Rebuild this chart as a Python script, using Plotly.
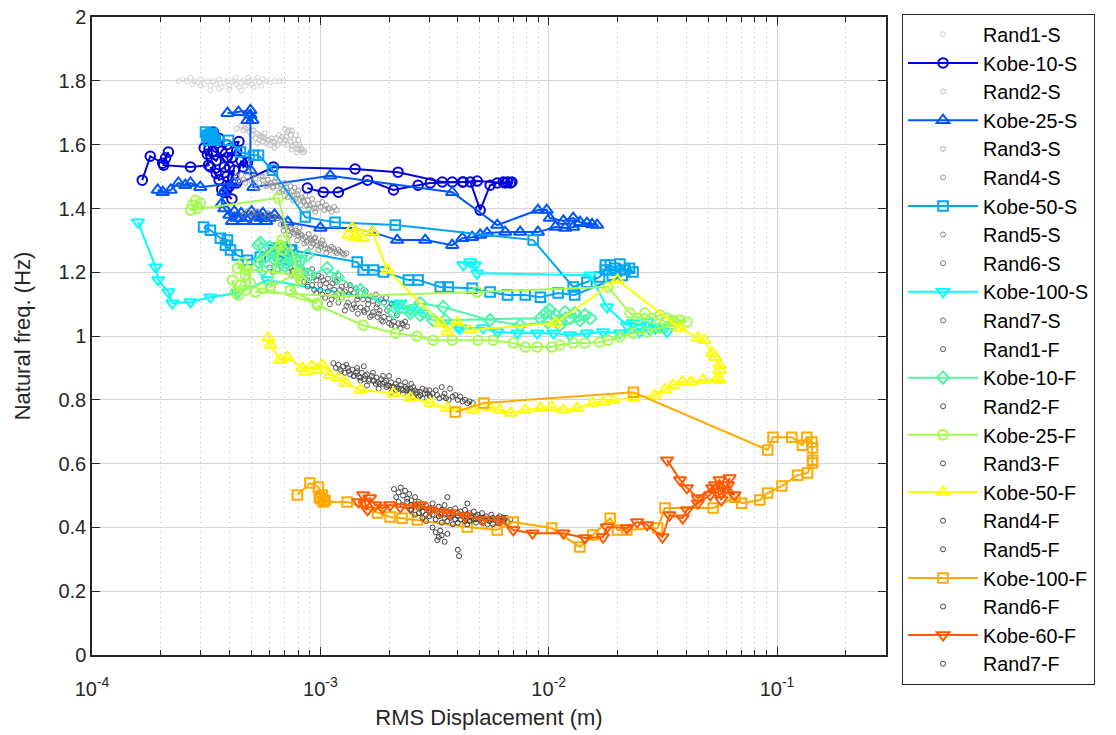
import math
import plotly.graph_objects as go

# ---------------- data (x = RMS displacement [m], y = natural freq [Hz]) ----------------
RAND1_S = [(2.4e-4,1.80),(2.5e-4,1.805),(2.6e-4,1.80),(2.7e-4,1.81),(2.8e-4,1.80),(2.9e-4,1.795),(3.0e-4,1.805),
           (3.1e-4,1.79),(3.2e-4,1.80),(3.3e-4,1.785),(3.4e-4,1.80),(3.5e-4,1.79),(3.6e-4,1.805),(3.7e-4,1.78),
           (3.8e-4,1.795),(3.9e-4,1.80),(4.0e-4,1.785),(4.1e-4,1.795),(4.2e-4,1.80),(4.3e-4,1.79),(4.4e-4,1.78),
           (4.5e-4,1.795),(4.6e-4,1.80),(4.7e-4,1.785),(4.8e-4,1.795),(4.9e-4,1.80),(5.0e-4,1.79),(5.2e-4,1.80),
           (5.4e-4,1.795),(5.6e-4,1.805),(5.8e-4,1.80),(6.0e-4,1.795),(6.3e-4,1.80),(6.6e-4,1.80),(6.9e-4,1.80),
           (3.3e-4,1.77),(3.6e-4,1.775),(4.0e-4,1.775),(4.5e-4,1.77),(5.1e-4,1.78),(5.5e-4,1.785),(3.0e-4,1.785),
           (2.75e-4,1.79),(4.25e-4,1.81),(4.85e-4,1.81),(5.3e-4,1.81)]
RAND2_S = [(4.3e-4,1.65),(4.5e-4,1.66),(4.6e-4,1.645),(4.8e-4,1.655),(4.9e-4,1.64),(5.0e-4,1.63),(5.1e-4,1.645),
           (5.2e-4,1.62),(5.3e-4,1.635),(5.4e-4,1.615),(5.5e-4,1.625),(5.6e-4,1.61),(5.7e-4,1.62),(5.8e-4,1.605),
           (5.9e-4,1.615),(6.0e-4,1.60),(6.2e-4,1.61),(6.4e-4,1.62),(6.6e-4,1.63),(6.8e-4,1.625),(6.5e-4,1.60),
           (6.9e-4,1.605),(7.0e-4,1.615),(7.2e-4,1.60),(7.4e-4,1.61),(7.6e-4,1.595),(7.8e-4,1.60),(8.0e-4,1.585),
           (8.2e-4,1.59),(8.4e-4,1.575),(8.5e-4,1.58),(7.9e-4,1.575),(7.5e-4,1.585),(7.2e-4,1.64),(7.4e-4,1.63),
           (6.3e-4,1.59),(5.7e-4,1.635),(5.3e-4,1.605),(7.0e-4,1.65),(7.5e-4,1.645),(7.8e-4,1.63),(8.0e-4,1.615),
           (4.7e-4,1.65),(5.0e-4,1.645),(5.4e-4,1.63),(5.6e-4,1.625),(6.1e-4,1.62),(6.3e-4,1.605),(6.7e-4,1.615),
           (7.1e-4,1.625),(7.3e-4,1.645),(7.7e-4,1.615),(8.1e-4,1.60),(8.3e-4,1.585)]
RAND3_S = [(4.3e-4,1.50),(4.5e-4,1.505),(4.6e-4,1.49),(4.8e-4,1.50),(5.0e-4,1.485),(5.2e-4,1.495),(5.4e-4,1.48),
           (5.6e-4,1.49),(5.8e-4,1.475),(5.0e-4,1.51),(4.7e-4,1.48),(5.5e-4,1.50),(6.0e-4,1.48),(6.2e-4,1.47),
           (4.4e-4,1.485),(5.3e-4,1.465)]
RAND4_S = [(5.6e-4,1.50),(5.9e-4,1.49),(6.1e-4,1.48),(6.3e-4,1.485),(6.5e-4,1.47),(6.7e-4,1.475),(6.9e-4,1.46),
           (7.1e-4,1.465),(7.3e-4,1.45),(7.5e-4,1.455),(7.7e-4,1.44),(7.9e-4,1.445),(8.1e-4,1.43),(8.3e-4,1.435),
           (8.5e-4,1.42),(8.8e-4,1.425),(9.0e-4,1.41),(9.3e-4,1.415),(9.6e-4,1.40),(1.0e-3,1.405),(1.04e-3,1.395),
           (1.08e-3,1.40),(1.12e-3,1.39),(1.18e-3,1.395),(7.0e-4,1.44),(7.6e-4,1.425),(8.2e-4,1.41),(8.9e-4,1.40),
           (9.5e-4,1.39),(6.6e-4,1.45),(7.4e-4,1.47),(8.0e-4,1.455),(8.6e-4,1.44),(9.2e-4,1.43),(1.02e-3,1.42),
           (5.8e-4,1.47),(6.2e-4,1.465),(6.8e-4,1.455),(7.2e-4,1.435),(7.8e-4,1.43),(8.4e-4,1.425),(8.7e-4,1.41),
           (9.4e-4,1.40),(9.8e-4,1.415),(1.06e-3,1.41),(1.1e-3,1.40),(1.15e-3,1.405),(6.4e-4,1.495),(7.0e-4,1.48),
           (7.7e-4,1.465)]
RAND5_S = [(6.7e-4,1.35),(7.0e-4,1.345),(7.2e-4,1.33),(7.4e-4,1.34),(7.6e-4,1.325),(7.8e-4,1.33),(8.0e-4,1.315),
           (8.2e-4,1.32),(8.4e-4,1.305),(8.6e-4,1.31),(8.8e-4,1.30),(9.0e-4,1.305),(9.3e-4,1.29),(9.6e-4,1.295),
           (1.0e-3,1.28),(1.04e-3,1.285),(1.08e-3,1.275),(1.12e-3,1.28),(1.16e-3,1.265),(1.2e-3,1.27),(1.25e-3,1.26),
           (1.3e-3,1.26),(7.3e-4,1.315),(7.9e-4,1.30),(8.5e-4,1.29),(9.1e-4,1.28),(9.8e-4,1.27),(1.06e-3,1.26),
           (6.9e-4,1.33),(8.1e-4,1.34),(8.9e-4,1.32),(9.5e-4,1.31),(1.02e-3,1.30),
           (7.1e-4,1.34),(7.5e-4,1.335),(7.7e-4,1.32),(8.3e-4,1.315),(8.7e-4,1.295),(9.2e-4,1.30),(9.7e-4,1.285),
           (1.01e-3,1.29),(1.05e-3,1.275),(1.1e-3,1.27),(1.14e-3,1.275),(1.18e-3,1.26),(1.22e-3,1.265),
           (1.27e-3,1.255),(8.0e-4,1.325),(9.4e-4,1.305)]
RAND6_S = [(4.8e-4,1.39),(5.0e-4,1.385),(5.3e-4,1.39),(5.6e-4,1.38),(5.9e-4,1.385),(6.2e-4,1.375),(6.5e-4,1.37),
           (5.1e-4,1.375),(5.8e-4,1.37),(6.8e-4,1.365),(4.6e-4,1.38)]
RAND7_S = [(6.7e-4,1.22),(7.0e-4,1.21),(7.4e-4,1.215),(7.8e-4,1.20),(8.2e-4,1.21),(8.6e-4,1.195),(9.0e-4,1.20),
           (9.4e-4,1.185),(9.8e-4,1.19),(1.03e-3,1.175),(1.08e-3,1.18),(1.13e-3,1.165),(1.18e-3,1.17),(1.24e-3,1.155),
           (1.3e-3,1.16),(1.36e-3,1.145),(1.43e-3,1.15),(1.5e-3,1.135),(1.58e-3,1.14),(1.66e-3,1.125),(1.75e-3,1.13),
           (1.84e-3,1.115),(1.94e-3,1.12),(2.05e-3,1.10),(7.5e-4,1.19),(8.8e-4,1.175),(1.0e-3,1.16),(1.15e-3,1.145),
           (1.33e-3,1.13),(1.54e-3,1.115),(1.78e-3,1.10),(9.2e-4,1.21),(1.2e-3,1.19),(6.2e-4,1.20),(6.0e-4,1.215),
           (8.0e-4,1.23),(6.5e-4,1.21),(7.2e-4,1.20),(7.6e-4,1.205),(8.4e-4,1.19),(9.6e-4,1.175),(1.06e-3,1.165),
           (1.1e-3,1.155),(1.22e-3,1.145),(1.28e-3,1.14),(1.4e-3,1.135),(1.46e-3,1.125),(1.62e-3,1.115),
           (1.7e-3,1.11),(1.9e-3,1.105),(2.0e-3,1.09),(8.7e-4,1.205),(1.01e-3,1.185),(1.16e-3,1.175),
           (1.35e-3,1.16),(1.55e-3,1.145)]
RAND1_F = [(8.5e-4,1.17),(9.2e-4,1.16),(1.0e-3,1.145),(1.08e-3,1.14),(1.16e-3,1.125),(1.24e-3,1.12),(1.32e-3,1.105),
           (1.4e-3,1.10),(1.5e-3,1.09),(1.6e-3,1.085),(1.7e-3,1.075),(1.8e-3,1.07),(1.9e-3,1.06),(2.0e-3,1.055),
           (2.1e-3,1.045),(2.2e-3,1.04),(2.3e-3,1.035),(2.4e-3,1.03),(1.28e-3,1.08),(1.46e-3,1.07),(1.65e-3,1.06),
           (1.85e-3,1.05),(2.05e-3,1.035),(2.25e-3,1.025),(1.1e-3,1.10),(1.38e-3,1.085),(1.56e-3,1.075),(1.76e-3,1.09),
           (1.96e-3,1.08),(2.16e-3,1.065),(1.05e-3,1.12),(9.6e-4,1.135),(8.8e-4,1.155),(9.4e-4,1.145),(1.02e-3,1.13),
           (1.12e-3,1.115),(1.2e-3,1.105),(1.3e-3,1.095),(1.42e-3,1.09),(1.55e-3,1.08),(1.68e-3,1.065),
           (1.78e-3,1.06),(1.88e-3,1.045),(2.0e-3,1.04),(2.12e-3,1.03),(2.28e-3,1.04),(2.35e-3,1.045),
           (1.25e-3,1.135),(1.45e-3,1.115),(1.62e-3,1.10),(1.82e-3,1.08)]
RAND2_F = [(1.14e-3,0.915),(1.2e-3,0.91),(1.26e-3,0.905),(1.32e-3,0.90),(1.38e-3,0.895),(1.45e-3,0.89),(1.52e-3,0.885),
           (1.6e-3,0.88),(1.68e-3,0.875),(1.76e-3,0.87),(1.85e-3,0.865),(1.94e-3,0.86),(2.04e-3,0.855),(2.14e-3,0.85),
           (2.25e-3,0.845),(2.36e-3,0.84),(2.48e-3,0.835),(2.6e-3,0.83),(2.73e-3,0.825),(2.87e-3,0.82),(3.01e-3,0.815),
           (1.23e-3,0.89),(1.35e-3,0.88),(1.48e-3,0.87),(1.63e-3,0.86),(1.79e-3,0.855),(1.97e-3,0.845),(2.17e-3,0.84),
           (2.39e-3,0.83),(2.63e-3,0.82),(2.8e-3,0.835),(2.5e-3,0.85),(2.0e-3,0.875),(1.55e-3,0.905),
           (1.17e-3,0.90),(1.22e-3,0.895),(1.28e-3,0.885),(1.33e-3,0.89),(1.4e-3,0.875),(1.43e-3,0.885),(1.5e-3,0.87),
           (1.57e-3,0.875),(1.64e-3,0.865),(1.72e-3,0.86),(1.82e-3,0.85),(1.9e-3,0.855),(2.0e-3,0.845),(2.1e-3,0.84),
           (2.2e-3,0.835),(2.3e-3,0.83),(2.45e-3,0.825),(2.55e-3,0.84),(2.7e-3,0.81),(2.9e-3,0.83),(1.3e-3,0.91),
           (1.45e-3,0.90),(1.7e-3,0.885),(1.88e-3,0.875),(2.2e-3,0.86),(2.35e-3,0.855)]
RAND3_F = [(1.4e-3,0.875),(1.55e-3,0.865),(1.7e-3,0.86),(1.87e-3,0.85),(2.06e-3,0.84),(2.26e-3,0.835),(2.49e-3,0.825),
           (2.74e-3,0.815),(3.02e-3,0.81),(3.2e-3,0.83),(3.32e-3,0.805),(3.5e-3,0.82),(3.65e-3,0.80),(3.8e-3,0.81),
           (4.0e-3,0.80),(4.2e-3,0.795),(4.4e-3,0.79),(4.65e-3,0.79),(3.4e-3,0.84),(3.7e-3,0.835),(3.0e-3,0.83),
           (2.8e-3,0.805),(2.55e-3,0.81),(2.3e-3,0.82),(2.05e-3,0.825),(1.8e-3,0.835),(1.6e-3,0.845),
           (3.1e-3,0.82),(3.25e-3,0.815),(3.55e-3,0.805),(3.9e-3,0.815),(4.1e-3,0.81),(4.3e-3,0.80),(4.5e-3,0.795),
           (3.45e-3,0.81),(2.65e-3,0.825),(2.95e-3,0.82),(2.4e-3,0.835),(2.15e-3,0.83),(1.95e-3,0.84),(1.75e-3,0.85),
           (1.5e-3,0.86)]
RAND4_F = [(2.1e-3,0.52),(2.2e-3,0.51),(2.25e-3,0.525),(2.3e-3,0.50),(2.35e-3,0.515),(2.4e-3,0.49),(2.45e-3,0.505),
           (2.5e-3,0.485),(2.6e-3,0.495),(2.7e-3,0.48),(2.2e-3,0.48),(2.3e-3,0.47),(2.15e-3,0.495)]
RAND5_F = [(2.6e-3,0.47),(2.8e-3,0.465),(3.0e-3,0.46),(3.2e-3,0.455),(3.4e-3,0.455),(3.6e-3,0.45),(3.8e-3,0.445),
           (4.0e-3,0.445),(4.2e-3,0.44),(4.4e-3,0.44),(4.6e-3,0.435),(4.8e-3,0.435),(5.0e-3,0.43),(5.2e-3,0.43),
           (5.5e-3,0.425),(5.8e-3,0.425),(6.2e-3,0.42),(6.6e-3,0.42),(3.1e-3,0.475),(3.5e-3,0.47),(3.9e-3,0.46),
           (4.3e-3,0.455),(4.7e-3,0.45),(5.1e-3,0.445),(5.6e-3,0.44),(6.1e-3,0.435),(6.5e-3,0.43),
           (2.7e-3,0.46),(2.9e-3,0.47),(3.3e-3,0.465),(3.7e-3,0.455),(4.1e-3,0.45),(4.5e-3,0.445),(4.9e-3,0.44),
           (5.3e-3,0.435),(5.7e-3,0.43),(6.0e-3,0.43),(6.4e-3,0.425),(6.8e-3,0.425),(3.0e-3,0.45),(3.5e-3,0.44),
           (4.0e-3,0.435),(4.4e-3,0.43),(4.8e-3,0.425),(5.2e-3,0.42),(2.5e-3,0.47),(2.4e-3,0.48)]
RAND6_F = [(2.7e-3,0.445),(2.9e-3,0.44),(3.1e-3,0.44),(3.3e-3,0.435),(3.5e-3,0.43),(3.7e-3,0.43),(3.9e-3,0.425),
           (4.1e-3,0.425),(4.3e-3,0.42),(4.5e-3,0.42),(4.8e-3,0.415),(5.1e-3,0.415),(5.4e-3,0.41),(5.7e-3,0.41),
           (3.0e-3,0.455),(3.4e-3,0.445),(3.8e-3,0.44),(4.2e-3,0.435),(4.6e-3,0.43),(5.0e-3,0.425),
           (2.8e-3,0.43),(3.2e-3,0.425),(3.6e-3,0.42),(4.0e-3,0.415),(4.4e-3,0.41),(2.6e-3,0.44),(3.0e-3,0.435),
           (4.7e-3,0.425),(5.5e-3,0.42),(6.0e-3,0.415),(6.3e-3,0.43),(3.4e-3,0.415),(3.8e-3,0.41)]
RAND7_F = [(3.1e-3,0.40),(3.2e-3,0.385),(3.3e-3,0.37),(3.4e-3,0.375),(3.25e-3,0.36),(3.5e-3,0.355),(3.35e-3,0.39),
           (3.6e-3,0.38),(4.0e-3,0.33),(4.05e-3,0.31),(2.9e-3,0.42),(3.6e-3,0.495),(4.4e-3,0.475),(2.5e-3,0.455),
           (2.8e-3,0.45)]

KOBE10_S = [(1.66e-4,1.489),(1.80e-4,1.564),(2.04e-4,1.542),(2.10e-4,1.558),(2.16e-4,1.577),(2.06e-4,1.536),
            (2.70e-4,1.530),(3.24e-4,1.536),(3.1e-4,1.59),(3.3e-4,1.63),(3.4e-4,1.64),(3.6e-4,1.62),(3.2e-4,1.57),
            (3.5e-4,1.55),(3.7e-4,1.58),(3.9e-4,1.60),(4.4e-4,1.61),(4.1e-4,1.56),(3.8e-4,1.53),(3.5e-4,1.51),
            (3.3e-4,1.53),(3.6e-4,1.49),(3.9e-4,1.50),(4.2e-4,1.52),(4.0e-4,1.47),(3.8e-4,1.45),(4.1e-4,1.43),
            (3.7e-4,1.46),(4.3e-4,1.48),(4.5e-4,1.55),(4.6e-4,1.53),(4.8e-4,1.545),(4.3e-4,1.58),(3.9e-4,1.56),
            (3.4e-4,1.58),(3.2e-4,1.62),(4.0e-4,1.53),(3.9e-4,1.46),(6.23e-4,1.530),(1.42e-3,1.524),(2.19e-3,1.514),
            (3.42e-3,1.483),(3.78e-3,1.483),(4.19e-3,1.483),(4.54e-3,1.483),(5.01e-3,1.395),(5.54e-3,1.473),
            (5.95e-3,1.480),(6.32e-3,1.483),(6.6e-3,1.483),(6.79e-3,1.480),(6.9e-3,1.483),(6.45e-3,1.480),
            (4.86e-3,1.486),(4.23e-3,1.483),(3.03e-3,1.480),(2.68e-3,1.473),(2.09e-3,1.458),(1.61e-3,1.489),
            (1.20e-3,1.451),(1.03e-3,1.451),(8.77e-4,1.464)]
KOBE25_S = [(4.38e-4,1.702),(3.92e-4,1.699),(4.94e-4,1.708),(5.04e-4,1.677),(4.80e-4,1.677),(4.94e-4,1.693),
            (4.94e-4,1.520),(5.09e-4,1.467),(1.105e-3,1.503),(3.78e-3,1.451),(5.95e-3,1.348),(8.97e-3,1.395),
            (9.80e-3,1.395),(1.01e-2,1.370),(1.16e-2,1.361),(1.28e-2,1.370),(1.37e-2,1.357),(1.47e-2,1.354),
            (1.63e-2,1.348),(1.55e-2,1.350),(1.28e-2,1.342),(1.18e-2,1.339),(1.07e-2,1.342),(8.97e-3,1.326),
            (7.5e-3,1.326),(6.45e-3,1.326),(5.37e-3,1.323),(5.01e-3,1.317),(4.62e-3,1.310),(4.19e-3,1.307),
            (3.78e-3,1.285),(2.88e-3,1.301),(2.17e-3,1.301),(1.69e-3,1.326),(1.38e-3,1.339),(1.0e-3,1.339),
            (7.2e-4,1.357),(6.3e-4,1.38),(6.0e-4,1.37),(5.8e-4,1.36),(5.6e-4,1.385),(5.5e-4,1.37),(5.3e-4,1.375),
            (5.2e-4,1.36),(5.0e-4,1.39),(4.7e-4,1.37),(4.6e-4,1.36),(4.5e-4,1.385),(4.3e-4,1.37),(4.2e-4,1.39),
            (4.1e-4,1.36),(4.0e-4,1.38),(3.8e-4,1.40),(3.7e-4,1.415),(3.76e-4,1.451),(4.17e-4,1.480),
            (2.98e-4,1.467),(2.70e-4,1.480),(2.56e-4,1.473),(2.39e-4,1.480),(2.21e-4,1.458),(2.04e-4,1.451),
            (1.94e-4,1.458)]
KOBE50_S = [(3.14e-4,1.64),(3.34e-4,1.636),(3.20e-4,1.63),(3.30e-4,1.624),(3.40e-4,1.62),(3.24e-4,1.614),
            (3.18e-4,1.625),(3.28e-4,1.632),(3.36e-4,1.628),(3.47e-4,1.614),(3.96e-4,1.614),(4.47e-4,1.577),
            (5.09e-4,1.567),(5.36e-4,1.567),(6.17e-4,1.520),(8.6e-4,1.373),(1.16e-3,1.357),(2.13e-3,1.348),
            (8.55e-3,1.301),(1.28e-2,1.154),(1.47e-2,1.169),(1.67e-2,1.185),(1.77e-2,1.207),(1.86e-2,1.223),
            (1.95e-2,1.213),(2.05e-2,1.226),(2.16e-2,1.207),(2.26e-2,1.213),(2.34e-2,1.201),(1.90e-2,1.19),
            (1.77e-2,1.223),(2.10e-2,1.19),(1.30e-2,1.129),(1.10e-2,1.135),(9.2e-3,1.122),(7.9e-3,1.129),
            (6.6e-3,1.129),(5.54e-3,1.138),(4.62e-3,1.150),(3.63e-3,1.154),(3.35e-3,1.154),(2.68e-3,1.176),
            (2.43e-3,1.176),(1.89e-3,1.201),(1.71e-3,1.207),(1.54e-3,1.207),(1.45e-3,1.232),(7.39e-4,1.270),
            (7.5e-4,1.27),(7.2e-4,1.255),(6.9e-4,1.265),(6.6e-4,1.25),(6.3e-4,1.26),(6.8e-4,1.28),(7.0e-4,1.24),
            (6.48e-4,1.276),(6.23e-4,1.270),(5.46e-4,1.248),(4.80e-4,1.238),(4.33e-4,1.254),(4.04e-4,1.270),
            (3.84e-4,1.285),(3.92e-4,1.301),(3.65e-4,1.307),(3.30e-4,1.332),(3.08e-4,1.342)]
KOBE100_S = [(1.59e-4,1.357),(1.90e-4,1.216),(1.95e-4,1.176),(2.16e-4,1.138),(2.25e-4,1.103),(2.70e-4,1.107),
             (3.30e-4,1.122),(4.33e-4,1.135),(5.86e-4,1.176),(2.24e-3,1.103),(2.17e-3,1.091),(2.48e-3,1.082),
             (2.82e-3,1.072),(4.0e-3,1.028),(4.1e-3,1.025),(5.17e-3,1.025),(5.95e-3,1.013),(7.3e-3,1.009),
             (8.9e-3,1.009),(1.05e-2,1.009),(1.24e-2,1.003),(1.47e-2,1.009),(1.73e-2,1.013),(2.05e-2,1.009),
             (2.5e-2,1.013),(2.78e-2,1.019),(3.3e-2,1.013),(3.07e-2,1.028),(2.93e-2,1.025),(2.7e-2,1.044),
             (2.5e-2,1.034),(2.34e-2,1.041),(2.20e-2,1.034),(1.80e-2,1.091),(1.52e-2,1.191),(4.86e-3,1.197),
             (4.76e-3,1.223),(4.54e-3,1.232),(4.23e-3,1.223)]
KOBE10_F = [(5.36e-4,1.232),(5.6e-4,1.207),(5.36e-4,1.285),(5.46e-4,1.292),(6.0e-4,1.279),(6.5e-4,1.216),
            (6.2e-4,1.26),(6.9e-4,1.27),(7.4e-4,1.25),(8.0e-4,1.23),(7.0e-4,1.22),(6.3e-4,1.24),(5.8e-4,1.25),
            (6.68e-4,1.245),(7.17e-4,1.229),(7.78e-4,1.245),(8.77e-4,1.254),(8.2e-4,1.207),(9.0e-4,1.191),
            (1.07e-3,1.213),(1.19e-3,1.185),(1.50e-3,1.144),(2.09e-3,1.075),(2.48e-3,1.072),(2.74e-3,1.066),
            (3.12e-3,1.050),(3.52e-3,1.05),(9.2e-3,1.056),(9.7e-3,1.072),(1.01e-2,1.082),(1.07e-2,1.066),
            (1.12e-2,1.050),(1.18e-2,1.075),(1.24e-2,1.056),(1.30e-2,1.072),(1.37e-2,1.050),(1.44e-2,1.066),
            (1.52e-2,1.056),(1.12e-2,1.034),(9.9e-3,1.044),(7.5e-3,1.034),(5.54e-3,1.050),(3.45e-3,1.091),
            (2.74e-3,1.103),(2.24e-3,1.091)]
KOBE25_F = [(2.75e-4,1.411),(2.9e-4,1.401),(2.84e-4,1.426),(2.98e-4,1.417),(2.70e-4,1.395),(6.55e-4,1.433),
            (8.0e-4,1.191),(4.33e-4,1.213),(4.56e-4,1.229),(4.7e-4,1.191),(4.47e-4,1.160),(4.25e-4,1.138),
            (4.12e-4,1.176),(4.38e-4,1.129),(4.7e-4,1.144),(4.94e-4,1.166),(4.8e-4,1.207),(6.8e-4,1.301),
            (6.8e-4,1.270),(6.68e-4,1.285),(6.04e-4,1.154),(7.93e-4,1.197),(8.2e-4,1.176),(7.39e-4,1.144),
            (9.7e-4,1.103),(5.56e-4,1.150),(5.2e-4,1.138),(1.22e-3,1.125),(4.86e-3,1.138),(1.82e-2,1.154),
            (2.27e-2,1.072),(2.46e-2,1.056),(2.64e-2,1.072),(2.83e-2,1.056),(3.07e-2,1.066),(3.30e-2,1.056),
            (3.5e-2,1.050),(3.76e-2,1.050),(4.03e-2,1.044),(3.57e-2,1.044),(3.23e-2,1.044),(3.5e-2,1.034),
            (3.07e-2,1.025),(2.7e-2,1.013),(2.34e-2,1.009),(2.05e-2,0.997),(1.82e-2,0.987),(1.67e-2,0.981),
            (1.44e-2,0.978),(1.28e-2,0.978),(1.12e-2,0.972),(1.03e-2,0.966),(8.9e-3,0.966),(7.9e-3,0.966),
            (7.0e-3,0.978),(5.7e-3,0.987),(4.9e-3,0.987),(3.78e-3,0.987),(3.12e-3,0.987),(2.65e-3,1.0),
            (2.13e-3,1.009),(1.54e-3,1.034),(9.7e-4,1.097)]
KOBE50_F = [(1.33e-3,1.317),(1.42e-3,1.310),(1.53e-3,1.307),(1.38e-3,1.339),(1.69e-3,1.326),(1.97e-3,1.207),
            (3.35e-3,1.041),(3.6e-3,1.013),(3.98e-3,1.044),(4.53e-3,1.019),(1.07e-2,1.041),(2.0e-2,1.176),
            (3.76e-2,1.025),(4.5e-2,0.994),(4.8e-2,0.987),(5.2e-2,0.947),(5.35e-2,0.934),(5.6e-2,0.909),
            (5.6e-2,0.893),(5.5e-2,0.868),(5.6e-2,0.862),(4.75e-2,0.862),(4.2e-2,0.856),(3.85e-2,0.856),
            (3.5e-2,0.846),(3.23e-2,0.831),(2.92e-2,0.815),(2.35e-2,0.806),(1.91e-2,0.799),(1.73e-2,0.793),
            (1.56e-2,0.790),(1.33e-2,0.774),(1.16e-2,0.768),(1.03e-2,0.777),(9.2e-3,0.774),(7.9e-3,0.768),
            (6.8e-3,0.759),(6.1e-3,0.768),(5.5e-3,0.777),(4.67e-3,0.768),(3.6e-3,0.774),(3.03e-3,0.790),
            (2.48e-3,0.806),(2.09e-3,0.821),(1.50e-3,0.831),(1.29e-3,0.853),(1.2e-3,0.868),(1.1e-3,0.878),
            (1.02e-3,0.909),(9.7e-4,0.893),(9.2e-4,0.906),(8.6e-4,0.887),(8.34e-4,0.900),(7.17e-4,0.934),
            (6.68e-4,0.925),(6.04e-4,0.972),(5.92e-4,0.994)]
KOBE100_F = [(7.93e-4,0.502),(9.0e-4,0.539),(9.8e-4,0.527),(1.02e-3,0.502),(9.9e-4,0.495),(1.05e-3,0.485),
             (1.0e-3,0.49),(1.03e-3,0.480),(1.31e-3,0.480),(1.78e-3,0.445),(2.02e-3,0.433),(2.28e-3,0.429),
             (2.66e-3,0.423),(4.4e-3,0.401),(5.95e-3,0.392),(7.0e-3,0.417),(1.03e-2,0.398),(1.37e-2,0.339),
             (1.56e-2,0.376),(1.86e-2,0.429),(2.0e-2,0.392),(2.2e-2,0.392),(3.0e-2,0.398),(3.23e-2,0.461),
             (5.25e-2,0.461),(6.55e-2,0.495),(7.0e-2,0.476),(8.4e-2,0.486),(9.1e-2,0.508),(1.05e-1,0.530),
             (1.23e-1,0.564),(1.36e-1,0.571),(1.43e-1,0.602),(1.43e-1,0.611),(1.43e-1,0.649),(1.42e-1,0.668),
             (1.35e-1,0.683),(1.29e-1,0.658),(1.16e-1,0.683),(9.6e-2,0.683),(9.1e-2,0.643),(2.35e-2,0.824),
             (5.2e-3,0.790),(3.9e-3,0.762)]
KOBE60_F = [(1.54e-3,0.502),(1.57e-3,0.476),(1.61e-3,0.455),(1.47e-3,0.480),(1.65e-3,0.492),(1.74e-3,0.470),
            (1.87e-3,0.461),(2.02e-3,0.470),(2.24e-3,0.464),(2.48e-3,0.461),(2.74e-3,0.470),(3.03e-3,0.455),
            (3.35e-3,0.448),(3.7e-3,0.445),(4.3e-3,0.436),(5.17e-3,0.423),(6.1e-3,0.423),(7.0e-3,0.392),
            (8.5e-3,0.382),(1.16e-2,0.382),(1.44e-2,0.367),(1.73e-2,0.370),(1.8e-2,0.401),(2.2e-2,0.398),
            (2.44e-2,0.417),(2.7e-2,0.408),(3.15e-2,0.370),(3.38e-2,0.439),(3.86e-2,0.429),(4.03e-2,0.455),
            (4.5e-2,0.476),(5.1e-2,0.502),(5.35e-2,0.533),(5.6e-2,0.549),(5.9e-2,0.517),(6.2e-2,0.555),
            (5.7e-2,0.486),(5.5e-2,0.511),(6.1e-2,0.533),(6.5e-2,0.502),(5.2e-2,0.524),(4.5e-2,0.492),
            (4.03e-2,0.524),(3.76e-2,0.549),(3.3e-2,0.611)]

X_TICKS = [1e-4, 1e-3, 1e-2, 1e-1]
X_TICK_TEXT = ["10<sup>-4</sup>", "10<sup>-3</sup>", "10<sup>-2</sup>", "10<sup>-1</sup>"]
X_MINOR = [m * d for d in (1e-4, 1e-3, 1e-2, 1e-1) for m in range(2, 10) if m * d <= 0.3]
Y_TICKS = [0, 0.2, 0.4, 0.6, 0.8, 1.0, 1.2, 1.4, 1.6, 1.8, 2.0]
Y_TICK_TEXT = ["0", "0.2", "0.4", "0.6", "0.8", "1", "1.2", "1.4", "1.6", "1.8", "2"]

# (name, data, kind, colour, symbol)
SERIES = [
    ("Rand1-S", RAND1_S, "rand", "#d6d6d6", None),
    ("Kobe-10-S", KOBE10_S, "kobe", "rgb(0,0,225)", "circle-open"),
    ("Rand2-S", RAND2_S, "rand", "#bfbfbf", None),
    ("Kobe-25-S", KOBE25_S, "kobe", "rgb(0,85,255)", "triangle-up-open"),
    ("Rand3-S", RAND3_S, "rand", "#aaaaaa", None),
    ("Rand4-S", RAND4_S, "rand", "#999999", None),
    ("Kobe-50-S", KOBE50_S, "kobe", "rgb(0,165,245)", "square-open"),
    ("Rand5-S", RAND5_S, "rand", "#888888", None),
    ("Rand6-S", RAND6_S, "rand", "#7a7a7a", None),
    ("Kobe-100-S", KOBE100_S, "kobe", "rgb(0,255,255)", "triangle-down-open"),
    ("Rand7-S", RAND7_S, "rand", "#656565", None),
    ("Rand1-F", RAND1_F, "rand", "#5a5a5a", None),
    ("Kobe-10-F", KOBE10_F, "kobe", "rgb(80,245,170)", "diamond-open"),
    ("Rand2-F", RAND2_F, "rand", "#505050", None),
    ("Kobe-25-F", KOBE25_F, "kobe", "rgb(165,250,80)", "circle-open"),
    ("Rand3-F", RAND3_F, "rand", "#4a4a4a", None),
    ("Kobe-50-F", KOBE50_F, "kobe", "rgb(255,255,0)", "triangle-up-open"),
    ("Rand4-F", RAND4_F, "rand", "#464646", None),
    ("Rand5-F", RAND5_F, "rand", "#434343", None),
    ("Kobe-100-F", KOBE100_F, "kobe", "rgb(255,170,0)", "square-open"),
    ("Rand6-F", RAND6_F, "rand", "#404040", None),
    ("Kobe-60-F", KOBE60_F, "kobe", "rgb(255,90,0)", "triangle-down-open"),
    ("Rand7-F", RAND7_F, "rand", "#3c3c3c", None),
]

fig = go.Figure()
for name, pts, kind, col, sym in SERIES:
    xs = [p[0] for p in pts]
    ys = [p[1] for p in pts]
    if kind == "rand":
        fig.add_trace(go.Scatter(
            x=xs, y=ys, name=name, mode="markers",
            marker=dict(symbol="circle-open", size=5, color=col, line=dict(width=1, color=col)),
        ))
    else:
        size = 11 if "triangle" in sym else 9.5
        fig.add_trace(go.Scatter(
            x=xs, y=ys, name=name, mode="lines+markers",
            line=dict(color=col, width=2),
            marker=dict(symbol=sym, size=size, color=col, line=dict(width=2, color=col)),
        ))

axis_col = "#262626"
# the page body has an 8 px margin, so the figure starts at (8, 8)
fig.update_layout(
    width=1108, height=727,
    margin=dict(l=84, r=230, t=9, b=80, autoexpand=False),
    paper_bgcolor="white", plot_bgcolor="white",
    font=dict(family="Liberation Sans, Arial, sans-serif", color=axis_col, size=20),
    showlegend=True,
    legend=dict(x=1.0202, y=1.0047, xanchor="left", yanchor="top",
                bordercolor=axis_col, borderwidth=1, bgcolor="white", maxheight=1,
                font=dict(size=19.7, color="black"), itemwidth=70, tracegroupgap=0),
)
fig.update_xaxes(
    type="log", range=[-4, math.log10(0.3)],
    tickmode="array", tickvals=X_TICKS, ticktext=X_TICK_TEXT,
    ticks="inside", ticklen=8, tickwidth=1, tickcolor=axis_col,
    showline=True, linecolor=axis_col, linewidth=1.5, mirror="allticks",
    showgrid=True, gridcolor="#d4d4d4", gridwidth=1, zeroline=False,
    tickfont=dict(size=20, color=axis_col), ticklabelstandoff=15,
    minor=dict(tickmode="array", tickvals=X_MINOR, ticks="inside", ticklen=5, tickcolor=axis_col,
               showgrid=True, gridcolor="#bdbdbd", griddash="1px,4px", gridwidth=1),
    title=dict(text="RMS Displacement (m)", font=dict(size=22, color=axis_col), standoff=11),
)
fig.update_yaxes(
    range=[0, 2.0005], tickmode="array", tickvals=Y_TICKS, ticktext=Y_TICK_TEXT,
    ticks="inside", ticklen=8, tickwidth=1, tickcolor=axis_col, ticklabeloverflow="allow",
    showline=True, linecolor=axis_col, linewidth=1.5, mirror="allticks",
    showgrid=True, gridcolor="#d4d4d4", gridwidth=1, zeroline=False,
    tickfont=dict(size=20, color=axis_col),
    title=dict(text="Natural freq. (Hz)", font=dict(size=22, color=axis_col), standoff=22),
)

fig.write_html("out.html")
